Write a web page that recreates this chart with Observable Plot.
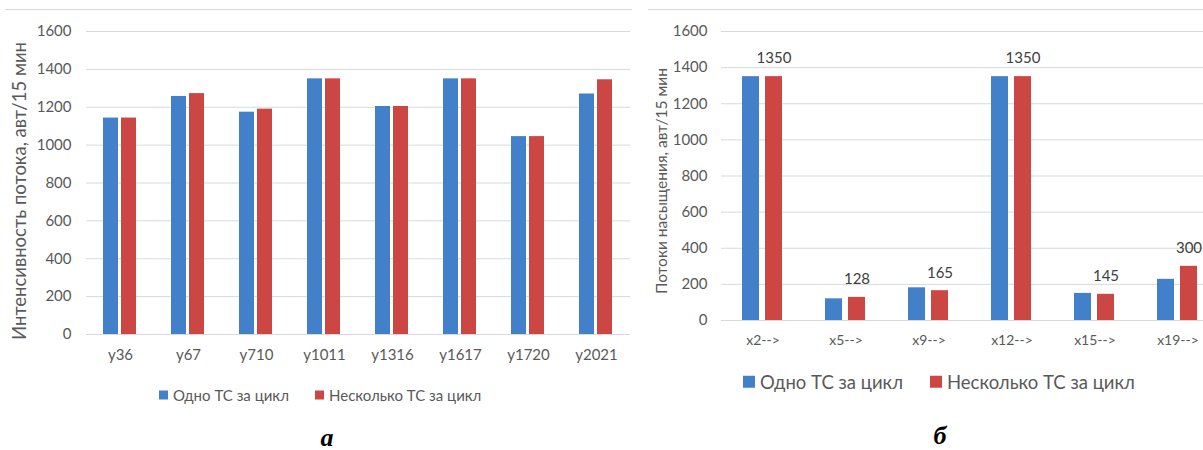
<!DOCTYPE html>
<html>
<head>
<meta charset="utf-8">
<script src="https://cdn.jsdelivr.net/npm/d3@7"></script>
<script src="https://cdn.jsdelivr.net/npm/@observablehq/plot@0.6"></script>
<style>
  html, body { margin:0; padding:0; background:#fff; }
  body { width:1203px; height:450px; overflow:hidden; position:relative; font-family: Lato, "Open Sans", sans-serif; color:#595959; }
  .rot { position:absolute; transform: translate(-50%,-50%) rotate(-90deg); white-space:nowrap; line-height:1; color:#595959; }
  .leg { position:absolute; white-space:nowrap; line-height:1; color:#595959; display:flex; align-items:center; transform: translateY(-50%); }
  .sw { display:inline-block; }
  .cap { position:absolute; font-family:"Liberation Serif", "DejaVu Serif", serif; font-style:italic; font-weight:bold; color:#000; transform: translate(-50%,-50%); line-height:1; }
  .hl { position:absolute; height:1px; background:#d9d9d9; }
</style>
</head>
<body>
<script>
// ---- data ----
const series = ["Одно ТС за цикл", "Несколько ТС за цикл"];
const colors = ["#4281ca", "#cc4643"];
const yTicks = [0, 200, 400, 600, 800, 1000, 1200, 1400, 1600];

const catsA = ["y36", "y67", "y710", "y1011", "y1316", "y1617", "y1720", "y2021"];
const oneA  = [1143, 1257, 1174, 1350, 1204, 1350, 1045, 1270];
const manyA = [1143, 1272, 1190, 1350, 1204, 1350, 1045, 1345];

const catsB = ["x2-->", "x5-->", "x9-->", "x12-->", "x15-->", "x19-->"];
const oneB  = [1350, 120, 181, 1350, 150, 228];
const manyB = [1350, 128, 165, 1350, 145, 300];

const titleA = "Интенсивность потока, авт/15 мин";
const titleB = "Потоки насыщения, авт/15 мин";

function table(cats, a, b) {
  const out = [];
  cats.forEach((c, i) => {
    out.push({cat: c, series: series[0], value: a[i]});
    out.push({cat: c, series: series[1], value: b[i]});
  });
  return out;
}
const dataA = table(catsA, oneA, manyA);
const dataB = table(catsB, oneB, manyB);
const fmt = d => String(d);

// ---- left chart ----
const chartA = Plot.plot({
  width: 640, height: 450,
  marginLeft: 85, marginRight: 10, marginTop: 31, marginBottom: 116,
  style: {fontFamily: "Lato, 'Open Sans', sans-serif", background: "transparent", overflow: "visible"},
  fx: {domain: catsA, padding: 0, label: null},
  x: {domain: series, paddingInner: 0.16, paddingOuter: 0.87, axis: null},
  y: {domain: [0, 1600], label: null},
  color: {domain: series, range: colors},
  marks: [
    Plot.gridY(yTicks, {stroke: "#d9d9d9", strokeOpacity: 1}),
    Plot.axisY(yTicks, {tickSize: 0, tickPadding: 15, fontSize: 15, fill: "#595959", label: null, tickFormat: fmt}),
    Plot.axisFx({anchor: "bottom", tickSize: 0, tickPadding: 15, fontSize: 15, fill: "#595959", label: null}),
    Plot.barY(dataA, {fx: "cat", x: "series", y: "value", fill: "series"})
  ]
});
chartA.style.position = "absolute";
chartA.style.left = "0px";
chartA.style.top = "0px";
document.body.appendChild(chartA);

// ---- right chart ----
const chartB = Plot.plot({
  width: 579, height: 450,
  marginLeft: 80, marginRight: 0, marginTop: 31, marginBottom: 130,
  style: {fontFamily: "Lato, 'Open Sans', sans-serif", background: "transparent", overflow: "visible"},
  fx: {domain: catsB, padding: 0, label: null},
  x: {domain: series, paddingInner: 0.25, paddingOuter: 0.86, axis: null},
  y: {domain: [0, 1600], label: null},
  color: {domain: series, range: colors},
  marks: [
    Plot.gridY(yTicks, {stroke: "#d9d9d9", strokeOpacity: 1}),
    Plot.axisY(yTicks, {tickSize: 0, tickPadding: 14, fontSize: 15, fill: "#595959", label: null, tickFormat: fmt}),
    Plot.axisFx({anchor: "bottom", tickSize: 0, tickPadding: 15, fontSize: 14, fill: "#595959", label: null}),
    Plot.barY(dataB, {fx: "cat", x: "series", y: "value", fill: "series"}),
    Plot.text(dataB.filter(d => d.series === series[1]), {fx: "cat", x: "series", y: "value", text: d => String(d.value), dy: -18, fontSize: 15, fill: "#404040"})
  ]
});
chartB.style.position = "absolute";
chartB.style.left = "640px";
chartB.style.top = "0px";
document.body.appendChild(chartB);

// ---- decorations: frame lines, titles, legends, captions ----
function add(html) { document.body.insertAdjacentHTML("beforeend", html); }
add(`<div class="hl" style="left:5px;top:9px;width:627px"></div>`);
add(`<div class="hl" style="left:648px;top:9px;width:560px"></div>`);
add(`<div class="rot" style="left:19px;top:191px;font-size:18.5px">${titleA}</div>`);
add(`<div class="rot" style="left:662px;top:181px;font-size:15.5px">${titleB}</div>`);

function legend(x, y, size, sw, gap, label, color) {
  add(`<div class="leg" style="left:${x}px;top:${y}px;font-size:${size}px"><span class="sw" style="width:${sw}px;height:${sw}px;background:${color};margin-right:${gap}px"></span>${label}</div>`);
}
legend(159, 395, 15, 9, 5, series[0], colors[0]);
legend(315, 395, 15, 9, 5, series[1], colors[1]);
legend(743, 382, 18.5, 12, 5, series[0], colors[0]);
legend(930, 382, 18.5, 12, 5, series[1], colors[1]);

add(`<div class="cap" style="left:327px;top:438px;font-size:26px">а</div>`);
add(`<div class="cap" style="left:940px;top:436px;font-size:26px">б</div>`);
</script>
</body>
</html>
